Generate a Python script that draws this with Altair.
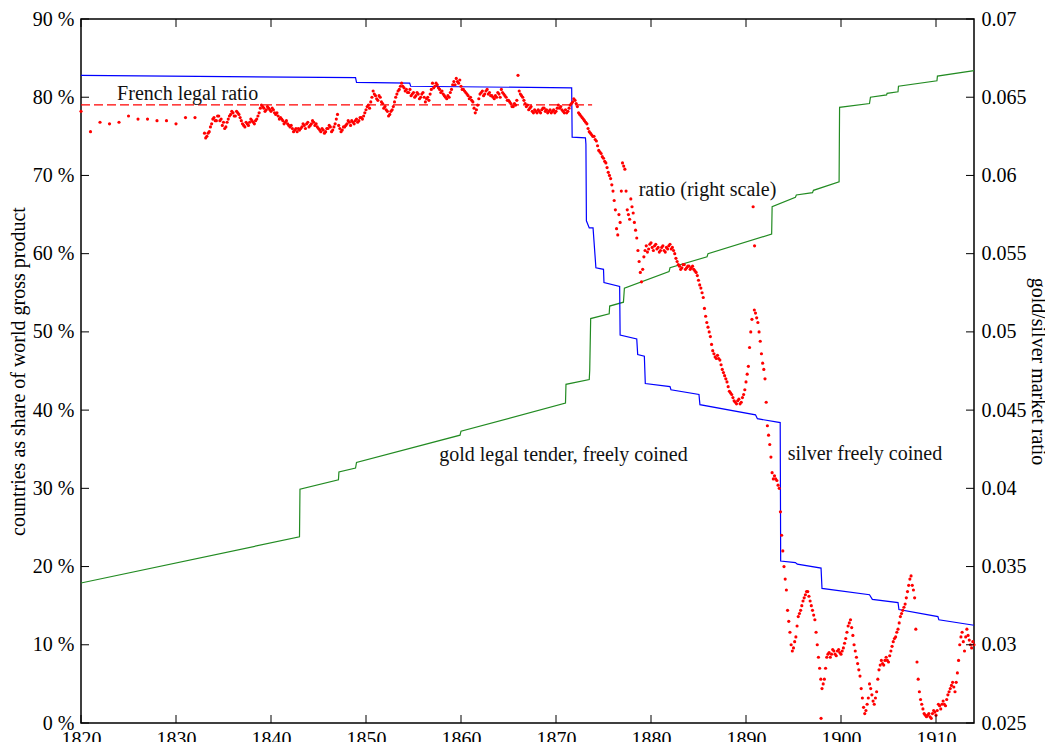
import altair as alt
import pandas as pd

FONT = "Liberation Serif"

# ---- gold legal tender, freely coined (share of world gross product, %) ----
gold_years = [1820, 1843.0, 1843.05, 1847.1, 1847.15, 1848.9, 1849.0, 1859.9, 1860.0,
              1871.0, 1871.05, 1873.5, 1873.55, 1873.65, 1875.6, 1875.65, 1877.1, 1877.2,
              1881.9, 1882.0, 1885.9, 1886.0, 1892.7, 1892.75, 1895.2, 1895.3, 1897.0,
              1897.1, 1899.8, 1899.85, 1903.0, 1903.1, 1904.8, 1904.85, 1906.0, 1906.05,
              1910.1, 1910.15, 1914]
gold_share = [17.9, 23.8, 29.9, 31.1, 32.1, 32.6, 33.3, 36.8, 37.3,
              40.9, 43.3, 43.9, 45.1, 51.7, 52.3, 53.3, 53.8, 55.6,
              57.7, 58.2, 59.6, 60.0, 62.5, 66.0, 67.2, 67.5, 67.8,
              68.1, 69.2, 78.7, 79.2, 80.0, 80.3, 80.5, 80.7, 81.4,
              82.1, 82.7, 83.4]

# ---- silver freely coined (share of world gross product, %) ----
silver_years = [1820, 1848.9, 1849.0, 1854.6, 1854.7, 1871.65, 1871.7, 1873.1, 1873.15,
                1873.2, 1873.5, 1873.9, 1874.2, 1875.0, 1875.05, 1876.7, 1876.75, 1878.5,
                1878.6, 1879.3, 1879.4, 1882.0, 1882.1, 1885.05, 1885.15, 1891.0, 1891.2,
                1893.6, 1893.65, 1895.2, 1895.4, 1897.9, 1898.0, 1903.0, 1903.3, 1906.0,
                1906.1, 1910.2, 1910.3, 1914]
silver_share = [82.8, 82.5, 81.9, 81.8, 81.4, 81.2, 74.9, 74.8, 74.0,
                64.2, 63.3, 63.3, 58.2, 58.0, 56.3, 55.8, 49.6, 49.1,
                47.1, 46.9, 43.4, 43.0, 42.6, 42.0, 40.7, 39.4, 38.9,
                38.4, 20.7, 20.5, 20.3, 19.8, 17.2, 16.4, 15.8, 15.4,
                14.5, 13.6, 13.2, 12.5]

# ---- French legal ratio 1/15.5 ----
legal_years = [1820, 1873.8]
legal_ratio = [1 / 15.5, 1 / 15.5]

# ---- gold/silver market ratio (right scale) ----
ratio_early_years = [1820, 1821, 1822, 1823, 1824, 1825, 1826, 1827, 1828, 1829, 1830, 1831, 1832]
ratio_early = [0.0641, 0.0628, 0.0634, 0.0633, 0.0634, 0.0638, 0.0636, 0.0636, 0.0635,
               0.0635, 0.0633, 0.0637, 0.0637]

# quarterly readings, each list starts at its year (a-lists on the quarter, b-lists 1.5 months later)
ratio_1833a = [0.0627, 0.0625, 0.0628, 0.0633, 0.0637, 0.0635, 0.0638, 0.0636, 0.0634, 0.0631,
               0.0636, 0.0639, 0.0640, 0.0638, 0.0640, 0.0637, 0.0633, 0.0631, 0.0633, 0.0634,
               0.0635, 0.0633, 0.0636, 0.0640, 0.0645, 0.0643, 0.0642, 0.0643, 0.0641, 0.0642,
               0.0639, 0.0638, 0.0637, 0.0635, 0.0634, 0.0633, 0.0631, 0.0630, 0.0629, 0.0628]
ratio_1833b = [0.0624, 0.0627, 0.0631, 0.0636, 0.0635, 0.0638, 0.0635, 0.0632, 0.0630, 0.0634,
               0.0638, 0.0641, 0.0638, 0.0641, 0.0639, 0.0635, 0.0632, 0.0634, 0.0632, 0.0636,
               0.0634, 0.0635, 0.0638, 0.0643, 0.0644, 0.0641, 0.0644, 0.0642, 0.0643, 0.0640,
               0.0640, 0.0636, 0.0636, 0.0633, 0.0635, 0.0632, 0.0632, 0.0628, 0.0630, 0.0630]
ratio_1843a = [0.0629, 0.0631, 0.0632, 0.0633, 0.0631, 0.0633, 0.0634, 0.0633, 0.0630, 0.0628,
               0.0629, 0.0628, 0.0630, 0.0631, 0.0629, 0.0633, 0.0639, 0.0630, 0.0629, 0.0631,
               0.0633, 0.0634, 0.0635, 0.0633, 0.0636, 0.0635, 0.0637, 0.0638, 0.0642, 0.0645,
               0.0647, 0.0654, 0.0651, 0.0648, 0.0650, 0.0646, 0.0644, 0.0641, 0.0639, 0.0642]
ratio_1843b = [0.0630, 0.0633, 0.0630, 0.0634, 0.0632, 0.0635, 0.0632, 0.0631, 0.0629, 0.0630,
               0.0627, 0.0630, 0.0632, 0.0628, 0.0631, 0.0636, 0.0632, 0.0628, 0.0631, 0.0632,
               0.0635, 0.0632, 0.0634, 0.0635, 0.0634, 0.0637, 0.0636, 0.0640, 0.0644, 0.0643,
               0.0650, 0.0652, 0.0649, 0.0651, 0.0647, 0.0643, 0.0642, 0.0638, 0.0641, 0.0644]
ratio_1853a = [0.0647, 0.0652, 0.0655, 0.0659, 0.0656, 0.0655, 0.0653, 0.0651, 0.0653, 0.0651,
               0.0652, 0.0650, 0.0653, 0.0647, 0.0650, 0.0652, 0.0659, 0.0657, 0.0658, 0.0655,
               0.0654, 0.0651, 0.0649, 0.0650, 0.0655, 0.0660, 0.0662, 0.0659, 0.0657, 0.0655,
               0.0653, 0.0651, 0.0650, 0.0647, 0.0640, 0.0645, 0.0652, 0.0654, 0.0652, 0.0655]
ratio_1853b = [0.0650, 0.0654, 0.0657, 0.0657, 0.0654, 0.0653, 0.0655, 0.0652, 0.0650, 0.0653,
               0.0649, 0.0652, 0.0650, 0.0649, 0.0648, 0.0655, 0.0656, 0.0659, 0.0656, 0.0653,
               0.0652, 0.0650, 0.0651, 0.0653, 0.0658, 0.0658, 0.0660, 0.0661, 0.0655, 0.0654,
               0.0652, 0.0649, 0.0648, 0.0643, 0.0642, 0.0649, 0.0653, 0.0651, 0.0654, 0.0652]
ratio_1863a = [0.0653, 0.0651, 0.0649, 0.0650, 0.0652, 0.0655, 0.0652, 0.0650, 0.0648, 0.0646,
               0.0644, 0.0645, 0.0664, 0.0652, 0.0650, 0.0646, 0.0645, 0.0643, 0.0641, 0.0642,
               0.0640, 0.0641, 0.0642, 0.0643, 0.0642, 0.0641, 0.0640, 0.0642, 0.0641, 0.0645,
               0.0644, 0.0641, 0.0642, 0.0641, 0.0645, 0.0647, 0.0648, 0.0644, 0.0639, 0.0637]
ratio_1863b = [0.0651, 0.0650, 0.0651, 0.0653, 0.0650, 0.0653, 0.0651, 0.0648, 0.0647, 0.0644,
               0.0646, 0.0648, 0.0654, 0.0651, 0.0648, 0.0644, 0.0642, 0.0644, 0.0640, 0.0641,
               0.0642, 0.0640, 0.0643, 0.0641, 0.0640, 0.0642, 0.0641, 0.0640, 0.0643, 0.0643,
               0.0642, 0.0640, 0.0640, 0.0643, 0.0646, 0.0649, 0.0646, 0.0640, 0.0638, 0.0636]
ratio_1873a = [0.0635, 0.0633, 0.0628, 0.0626, 0.0625, 0.0622, 0.0616, 0.0614, 0.0611, 0.0608,
               0.0602, 0.0598, 0.0590, 0.0578, 0.0562, 0.0570, 0.0608, 0.0604, 0.0578, 0.0572,
               0.0580, 0.0570, 0.0560, 0.0545, 0.0532, 0.0548, 0.0555, 0.0553, 0.0557, 0.0552,
               0.0556, 0.0554, 0.0552, 0.0555, 0.0551, 0.0553, 0.0556, 0.0554, 0.0550, 0.0545]
ratio_1873b = [0.0634, 0.0630, 0.0627, 0.0625, 0.0623, 0.0619, 0.0615, 0.0612, 0.0609, 0.0605,
               0.0600, 0.0594, 0.0584, 0.0566, 0.0575, 0.0590, 0.0606, 0.0590, 0.0575, 0.0585,
               0.0576, 0.0565, 0.0552, 0.0538, 0.0540, 0.0552, 0.0551, 0.0556, 0.0554, 0.0555,
               0.0553, 0.0551, 0.0554, 0.0552, 0.0554, 0.0555, 0.0553, 0.0552, 0.0547, 0.0543]
ratio_1883a = [0.0542, 0.0541, 0.0543, 0.0541, 0.0542, 0.0541, 0.0540, 0.0538, 0.0533, 0.0528,
               0.0522, 0.0510, 0.0503, 0.0497, 0.0488, 0.0484, 0.0485, 0.0482, 0.0476, 0.0472,
               0.0468, 0.0462, 0.0460, 0.0456, 0.0454, 0.0457, 0.0455, 0.0460, 0.0468, 0.0478,
               0.0500, 0.0580, 0.0512, 0.0506, 0.0494, 0.0480, 0.0470, 0.0440, 0.0428, 0.0410]
ratio_1883b = [0.0540, 0.0543, 0.0540, 0.0542, 0.0540, 0.0542, 0.0539, 0.0536, 0.0530, 0.0525,
               0.0515, 0.0506, 0.0500, 0.0492, 0.0486, 0.0483, 0.0483, 0.0479, 0.0474, 0.0470,
               0.0465, 0.0461, 0.0458, 0.0455, 0.0456, 0.0454, 0.0458, 0.0463, 0.0473, 0.0490,
               0.0508, 0.0514, 0.0509, 0.0500, 0.0486, 0.0476, 0.0455, 0.0434, 0.0420, 0.0406]
ratio_1893a = [0.0408, 0.0405, 0.0400, 0.0370, 0.0350, 0.0335, 0.0315, 0.0300, 0.0298, 0.0305,
               0.0318, 0.0322, 0.0328, 0.0332, 0.0334, 0.0328, 0.0322, 0.0316, 0.0300, 0.0285,
               0.0272, 0.0278, 0.0292, 0.0295, 0.0294, 0.0296, 0.0293, 0.0297, 0.0294, 0.0298,
               0.0304, 0.0312, 0.0316, 0.0306, 0.0296, 0.0288, 0.0280, 0.0266, 0.0256, 0.0262]
ratio_1893b = [0.0406, 0.0402, 0.0385, 0.0360, 0.0342, 0.0322, 0.0308, 0.0296, 0.0302, 0.0312,
               0.0320, 0.0325, 0.0330, 0.0334, 0.0331, 0.0325, 0.0319, 0.0308, 0.0292, 0.0278,
               0.0275, 0.0285, 0.0294, 0.0292, 0.0297, 0.0294, 0.0296, 0.0295, 0.0296, 0.0301,
               0.0308, 0.0314, 0.0311, 0.0300, 0.0292, 0.0284, 0.0272, 0.0260, 0.0258, 0.0266]
ratio_1903a = [0.0275, 0.0268, 0.0262, 0.0270, 0.0284, 0.0290, 0.0287, 0.0292, 0.0289, 0.0296,
               0.0302, 0.0305, 0.0310, 0.0318, 0.0322, 0.0326, 0.0334, 0.0342, 0.0338, 0.0330,
               0.0289, 0.0270, 0.0262, 0.0256, 0.0254, 0.0256, 0.0253, 0.0258, 0.0255, 0.0262,
               0.0259, 0.0264, 0.0261, 0.0268, 0.0272, 0.0276, 0.0270, 0.0282, 0.0300, 0.0308,
               0.0296, 0.0310, 0.0303, 0.0298, 0.0300]
ratio_1903b = [0.0272, 0.0264, 0.0266, 0.0278, 0.0287, 0.0288, 0.0290, 0.0290, 0.0293, 0.0299,
               0.0304, 0.0308, 0.0314, 0.0320, 0.0324, 0.0330, 0.0338, 0.0344, 0.0335, 0.0310,
               0.0278, 0.0265, 0.0259, 0.0255, 0.0255, 0.0254, 0.0256, 0.0257, 0.0258, 0.0261,
               0.0262, 0.0262, 0.0265, 0.0270, 0.0274, 0.0273, 0.0276, 0.0290, 0.0305, 0.0302,
               0.0305, 0.0306, 0.0300, 0.0302]
ratio_extra_years = [1890.9, 1897.9]
ratio_extra = [0.0555, 0.0253]

# ---- tick values ----
year_ticks = [1820, 1830, 1840, 1850, 1860, 1870, 1880, 1890, 1900, 1910]
pct_ticks = [0, 10, 20, 30, 40, 50, 60, 70, 80, 90]
ratio_ticks = [0.025, 0.03, 0.035, 0.04, 0.045, 0.05, 0.055, 0.06, 0.065, 0.07]

# ---- annotations ----
label_text = ["French legal ratio", "ratio (right scale)",
              "gold legal tender, freely coined", "silver freely coined"]
label_year = [1823.8, 1878.7, 1857.7, 1894.4]
label_pct = [79.7, 67.4, 33.5, 33.6]

# ---------------- build tables ----------------
gold_df = pd.DataFrame({"year": gold_years, "share": gold_share, "i": range(len(gold_years))})
silver_df = pd.DataFrame({"year": silver_years, "share": silver_share, "i": range(len(silver_years))})
legal_df = pd.DataFrame({"year": legal_years, "r": legal_ratio})

r_years, r_vals = list(ratio_early_years), list(ratio_early)
blocks = [(1833, ratio_1833a, ratio_1833b), (1843, ratio_1843a, ratio_1843b),
          (1853, ratio_1853a, ratio_1853b), (1863, ratio_1863a, ratio_1863b),
          (1873, ratio_1873a, ratio_1873b), (1883, ratio_1883a, ratio_1883b),
          (1893, ratio_1893a, ratio_1893b), (1903, ratio_1903a, ratio_1903b)]
for start, va, vb in blocks:
    for k, v in enumerate(va):
        r_years.append(start + 0.25 * k)
        r_vals.append(v)
    for k, v in enumerate(vb):
        r_years.append(start + 0.125 + 0.25 * k)
        r_vals.append(v)
r_years += ratio_extra_years
r_vals += ratio_extra
ratio_df = pd.DataFrame({"year": r_years, "r": r_vals})

label_df = pd.DataFrame({"text": label_text, "year": label_year, "pct": label_pct})
yt_df = pd.DataFrame({"year": year_ticks})
pt_df = pd.DataFrame({"pct": pct_ticks})
rt_df = pd.DataFrame({"r": ratio_ticks})

W, H = 893, 704
xs = alt.Scale(domain=[1820, 1914], nice=False, zero=False)
yl = alt.Scale(domain=[0, 90], nice=False, zero=False)
yr = alt.Scale(domain=[0.025, 0.07], nice=False, zero=False)

x_axis = alt.Axis(orient="bottom", values=year_ticks, format="d", ticks=False, domain=False,
                  grid=False, labelFont=FONT, labelFontSize=20, labelColor="black",
                  labelPadding=6, labelFlush=False, title=None)
left_axis = alt.Axis(orient="left", values=pct_ticks, labelExpr="datum.value + ' %'",
                     ticks=False, domain=False, grid=False, labelFont=FONT, labelFontSize=20,
                     labelColor="black", labelPadding=7, labelFlush=False,
                     title="countries as share of world gross product", titleFont=FONT,
                     titleFontSize=20, titleFontWeight="normal", titleColor="black",
                     titlePadding=4)
right_axis = alt.Axis(orient="right", values=ratio_ticks, labelExpr="'' + datum.value",
                      ticks=False, domain=False, grid=False, labelFont=FONT, labelFontSize=20,
                      labelColor="black", labelPadding=7, labelFlush=False,
                      title="gold/silver market ratio", titleFont=FONT, titleFontSize=20,
                      titleFontWeight="normal", titleColor="black", titlePadding=1)

X = alt.X("year:Q", scale=xs, axis=x_axis)

gold = alt.Chart(gold_df).mark_line(color="#228b22", strokeWidth=1.2).encode(
    x=X, y=alt.Y("share:Q", scale=yl, axis=left_axis), order="i:Q")
silver = alt.Chart(silver_df).mark_line(color="#0000ff", strokeWidth=1.2).encode(
    x=X, y=alt.Y("share:Q", scale=yl, axis=None), order="i:Q")
legal = alt.Chart(legal_df).mark_line(color="#ff0000", strokeWidth=1.3, strokeDash=[9, 4]).encode(
    x=X, y=alt.Y("r:Q", scale=yr, axis=right_axis))
dots = alt.Chart(ratio_df).mark_circle(color="#ff0000", size=10, opacity=1).encode(
    x=X, y=alt.Y("r:Q", scale=yr, axis=None))
labels = alt.Chart(label_df).mark_text(align="left", baseline="alphabetic", font=FONT,
                                        fontSize=20, color="#111111").encode(
    x=X, y=alt.Y("pct:Q", scale=yl, axis=None), text="text:N")

tick_bottom = alt.Chart(yt_df).mark_rule(color="black", strokeWidth=1).encode(
    x=X, y=alt.value(H), y2=alt.value(H - 8))
tick_top = alt.Chart(yt_df).mark_rule(color="black", strokeWidth=1).encode(
    x=X, y=alt.value(0), y2=alt.value(8))
tick_left = alt.Chart(pt_df).mark_rule(color="black", strokeWidth=1).encode(
    y=alt.Y("pct:Q", scale=yl, axis=None), x=alt.value(0), x2=alt.value(8))
tick_right = alt.Chart(rt_df).mark_rule(color="black", strokeWidth=1).encode(
    y=alt.Y("r:Q", scale=yr, axis=None), x=alt.value(W), x2=alt.value(W - 8))

chart = alt.layer(
    gold, silver, legal, dots, labels, tick_bottom, tick_top, tick_left, tick_right
).resolve_scale(y="independent").properties(
    width=W, height=H,
    autosize=alt.AutoSizeParams(type="none"),
    padding={"left": 73, "top": 11, "right": 71, "bottom": 19},
    background="white",
).configure_view(stroke="black", strokeWidth=1.5)

chart.save("out.html", embed_options={"renderer": "svg", "actions": False})
